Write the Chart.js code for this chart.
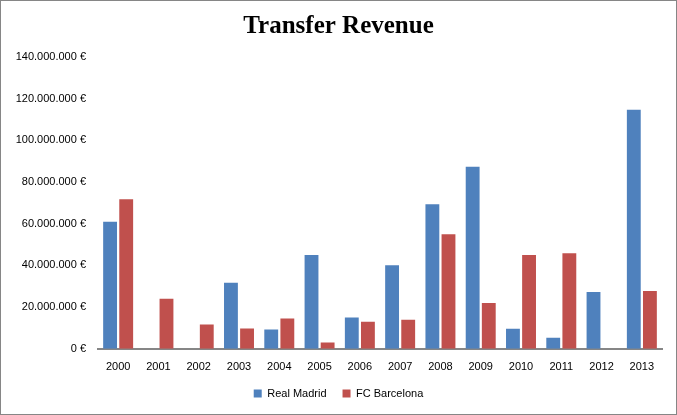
<!DOCTYPE html>
<html>
<head>
<meta charset="utf-8">
<script src="https://cdn.jsdelivr.net/npm/chart.js@4/dist/chart.umd.min.js"></script>
<style>
  html, body { margin: 0; padding: 0; background: #fff; }
  #wrap { width: 677px; height: 415px; box-sizing: border-box; border: 1px solid #868686; }
  canvas { display: block; }
</style>
</head>
<body>
<div id="wrap"><canvas id="chart" width="675" height="413"></canvas></div>
<script>
// data (euros)
const years = ["2000", "2001", "2002", "2003", "2004", "2005", "2006", "2007", "2008", "2009", "2010", "2011", "2012", "2013"];
const realMadrid = [61000000, 0, 0, 31700000, 9200000, 45000000, 15000000, 40100000, 69300000, 87400000, 9600000, 5300000, 27200000, 114700000];
const barcelona = [71800000, 24000000, 11600000, 9700000, 14500000, 3000000, 13000000, 13900000, 55000000, 22000000, 45000000, 45900000, 0, 27700000];
const yMax = 140000000;
const yStep = 20000000;

function euro(v) {
  return v.toString().replace(/\B(?=(\d{3})+(?!\d))/g, ".") + " €";
}

const tickFont = { family: "'Liberation Sans', Arial, sans-serif", size: 11 };

new Chart(document.getElementById("chart"), {
  type: "bar",
  data: {
    labels: years,
    datasets: [
      { label: "Real Madrid", data: realMadrid, backgroundColor: "#4F81BD" },
      { label: "FC Barcelona", data: barcelona, backgroundColor: "#C0504D" }
    ]
  },
  options: {
    responsive: false,
    animation: false,
    layout: { padding: { left: 14, right: 14, top: 0, bottom: 5 } },
    datasets: { bar: { categoryPercentage: 0.8, barPercentage: 0.86 } },
    scales: {
      x: {
        // legend gap is wider than the vertical room, so shrink the axis box
        afterFit: function(scale) { scale.height -= 14; },
        grid: { display: false, drawTicks: false },
        border: { display: true, color: "#868686", width: 2 },
        ticks: { color: "#000", font: tickFont, padding: 12, maxRotation: 0 }
      },
      y: {
        min: 0,
        max: yMax,
        afterFit: function(scale) { scale.width = 83; },
        grid: { display: false, drawTicks: false },
        border: { display: false },
        ticks: { stepSize: yStep, color: "#000", font: tickFont, padding: 12, callback: function(v) { return euro(v); } }
      }
    },
    plugins: {
      title: {
        display: true,
        text: "Transfer Revenue",
        color: "#000",
        font: { family: "'Liberation Serif', 'Times New Roman', serif", size: 25, weight: "bold" },
        padding: { top: 11, bottom: 15 }
      },
      legend: {
        position: "bottom",
        labels: { boxWidth: 8, boxHeight: 8, color: "#000", font: tickFont, padding: 16 }
      },
      tooltip: { enabled: false }
    }
  }
});
</script>
</body>
</html>
